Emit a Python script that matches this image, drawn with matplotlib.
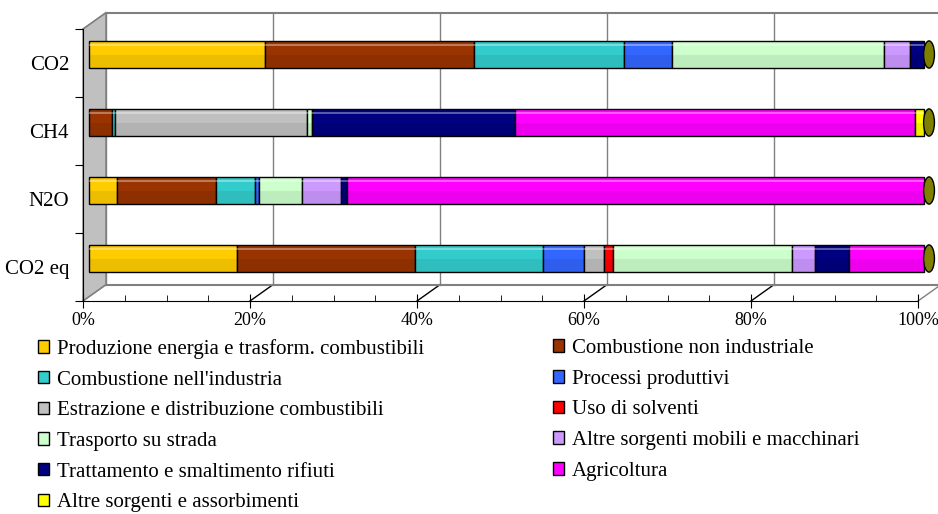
#Emissioni per settore: ripartizione percentuale per gas serra
import numpy as np
import matplotlib
matplotlib.use('Agg')
import matplotlib.pyplot as plt
from matplotlib.patches import Polygon, Ellipse, Patch

#Gas, dall'alto verso il basso
gas = ['CO2', 'CH4', 'N2O', 'CO2 eq']

settori = ['Produzione energia e trasform. combustibili',
           'Combustione non industriale',
           "Combustione nell'industria",
           'Processi produttivi',
           'Estrazione e distribuzione combustibili',
           'Uso di solventi',
           'Trasporto su strada',
           'Altre sorgenti mobili e macchinari',
           'Trattamento e smaltimento rifiuti',
           'Agricoltura',
           'Altre sorgenti e assorbimenti']

colori = ['#FFCC00', '#993300', '#33CCCC', '#3366FF', '#C0C0C0', '#FF0000',
          '#CCFFCC', '#CC99FF', '#000080', '#FF00FF', '#FFFF00']

#Quote percentuali per settore (stesso ordine di "settori")
quote_co2 = [21.1, 25.0, 18.0, 5.7, 0.0, 0.0, 25.4, 3.1, 1.7, 0.0, 0.0]
quote_ch4 = [0.0, 2.8, 0.3, 0.0, 23.0, 0.0, 0.6, 0.0, 24.3, 47.9, 1.1]
quote_n2o = [3.4, 11.8, 4.7, 0.4, 0.0, 0.0, 5.2, 4.7, 0.7, 69.1, 0.0]
quote_co2eq = [17.7, 21.4, 15.3, 4.9, 2.4, 1.0, 21.5, 2.8, 4.0, 9.0, 0.0]

tick_x = [0, 20, 40, 60, 80, 100]
etichette_x = ['0%', '20%', '40%', '60%', '80%', '100%']

plt.rcParams['font.family'] = ['Liberation Serif', 'DejaVu Serif']

fig = plt.figure(figsize=(9.38, 5.14), dpi=100)
ax = fig.add_axes([83 / 938, 213 / 514, 835 / 938, 272 / 514])
ax.set_xlim(0, 100)
ax.set_ylim(-0.5, 3.5)

#Finta profondità 3D (in unità dati)
dx_bar, dy_bar = 0.72, 0.125
dx_fondo, dy_fondo = 2.75, 0.24
grigio = '#808080'

#Parete sinistra grigia
ax.add_patch(Polygon([(0, -0.5), (0, 3.5), (dx_fondo, 3.5 + dy_fondo), (dx_fondo, -0.5 + dy_fondo)],
                     closed=True, facecolor='#C0C0C0', edgecolor=grigio, lw=1, clip_on=False, zorder=0))
#Griglia di fondo e pavimento
for t in tick_x:
    ax.plot([t + dx_fondo] * 2, [-0.5 + dy_fondo, 3.5 + dy_fondo], color=grigio, lw=1, clip_on=False, zorder=0)
    ax.plot([t, t + dx_fondo], [-0.5, -0.5 + dy_fondo], color='black' if 0 < t < 100 else grigio,
            lw=1, clip_on=False, zorder=0)
ax.plot([dx_fondo, 100 + dx_fondo], [3.5 + dy_fondo] * 2, color=grigio, lw=1.5, clip_on=False, zorder=0)
ax.plot([dx_fondo, 100 + dx_fondo], [-0.5 + dy_fondo] * 2, color=grigio, lw=1.5, clip_on=False, zorder=0)
ax.plot([0, dx_fondo], [3.5, 3.5 + dy_fondo], color=grigio, lw=1, clip_on=False, zorder=0)

#Barre in pila
dati = np.array([quote_co2, quote_ch4, quote_n2o, quote_co2eq])
y_pos = np.arange(len(gas))[::-1].astype(float)
alt = 0.4
sinistra = np.zeros(len(gas))
for j in range(len(settori)):
    val = dati[:, j]
    m = val > 0
    ax.barh(y_pos[m] + dy_bar, val[m], left=sinistra[m] + dx_bar, height=alt,
            color=colori[j], edgecolor='black', linewidth=1, zorder=3, clip_on=False)
    sinistra += val

#Ombreggiatura per l'effetto cilindro
ax.barh(y_pos + dy_bar - 0.1, sinistra, left=dx_bar, height=0.2, color='black', alpha=0.07, lw=0,
        zorder=4, clip_on=False)
ax.barh(y_pos + dy_bar + 0.14, sinistra, left=dx_bar, height=0.03, color='white', alpha=0.35, lw=0,
        zorder=4, clip_on=False)

#Tappo finale
for y, tot in zip(y_pos, sinistra):
    ax.add_patch(Ellipse((tot + dx_bar + 0.6, y + dy_bar), width=1.3, height=alt,
                         facecolor='#808000', edgecolor='black', lw=1, clip_on=False, zorder=5))

#Assi
for s in ['top', 'right']:
    ax.spines[s].set_visible(False)
ax.patch.set_alpha(0)
ax.set_xticks(tick_x, etichette_x, fontsize=13)
ax.set_xticks(np.arange(0, 101, 5), minor=True)
ax.tick_params(axis='x', which='major', direction='inout', length=10, pad=3)
ax.tick_params(axis='x', which='minor', direction='in', length=4)
ax.set_yticks(np.arange(-0.5, 3.6, 1), [''] * 5)
ax.set_yticks(y_pos, gas, minor=True, fontsize=15)
ax.tick_params(axis='y', which='major', direction='out', length=6)
ax.tick_params(axis='y', which='minor', length=0, pad=10)

#Legenda su due colonne
maniglie = [Patch(facecolor=c, edgecolor='black', lw=1) for c in colori]
opz = dict(loc='upper left', frameon=False, fontsize=15, handlelength=0.55, handleheight=0.55,
           handletextpad=0.35, labelspacing=0.56, borderpad=0, borderaxespad=0)
fig.legend(maniglie[0::2], settori[0::2], bbox_to_anchor=(38 / 938, 1 - 339 / 514), **opz)
fig.legend(maniglie[1::2], settori[1::2], bbox_to_anchor=(553 / 938, 1 - 339 / 514), **opz)

fig.savefig('out.png', dpi=100)
